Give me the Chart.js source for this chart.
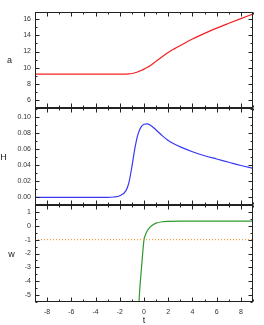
<!DOCTYPE html>
<html>
<head>
<meta charset="utf-8">
<script src="https://cdn.jsdelivr.net/npm/chart.js@4.4.0/dist/chart.umd.min.js"></script>
<style>
  html, body { margin: 0; padding: 0; background: #fff; overflow: hidden; }
  #wrap { position: relative; width: 264px; height: 325px; }
  #wrap canvas { position: absolute; left: 0; top: 0; }
</style>
</head>
<body>
<div id="wrap">
  <canvas id="c1" width="264" height="325"></canvas>
  <canvas id="c2" width="264" height="325"></canvas>
  <canvas id="c3" width="264" height="325"></canvas>
</div>
<script>
// time samples shared by a(t) and H(t)
const tVals = [-9, -8, -7, -6, -5, -4, -3, -2.5, -2, -1.5, -1.25, -1, -0.75, -0.5, -0.25, 0, 0.25, 0.5, 1, 1.5, 2, 2.5, 3, 4, 5, 6, 7, 8, 9];
const aVals = [9.2, 9.2, 9.2, 9.2, 9.2, 9.2, 9.2, 9.2, 9.2, 9.21, 9.23, 9.28, 9.37, 9.5, 9.65, 9.82, 10.02, 10.25, 10.8, 11.35, 11.88, 12.33, 12.75, 13.55, 14.25, 14.9, 15.5, 16.08, 16.65];
const hVals = [0, 0, 0, 0, 0, 0, 0, 0.0004, 0.002, 0.008, 0.018, 0.038, 0.061, 0.078, 0.087, 0.0905, 0.091, 0.0895, 0.0835, 0.0765, 0.0705, 0.066, 0.0625, 0.0565, 0.0515, 0.0475, 0.0435, 0.0395, 0.036];

// w(t) has its own samples, it enters from below the panel
const tW = [-0.42, -0.35, -0.3, -0.2, -0.1, 0, 0.1, 0.25, 0.5, 0.75, 1, 1.5, 2, 3, 5, 7, 9];
const wVals = [-5.6, -4.6, -4.0, -2.95, -1.9, -1.0, -0.7, -0.4, -0.1, 0.08, 0.19, 0.29, 0.32, 0.333, 0.335, 0.335, 0.335];
const wRef = -1; // dotted reference line

// axes
const tRange = [-9, 9];
const tTicks = [-8, -6, -4, -2, 0, 2, 4, 6, 8];
const aRange = [5, 16.9];
const aTicks = [6, 8, 10, 12, 14, 16];
const hRange = [-0.0095, 0.1107];
const hTicks = [0, 0.02, 0.04, 0.06, 0.08, 0.10];
const wRange = [-5.5, 1.5];
const wTicks = [-5, -4, -3, -2, -1, 0, 1];

const tickFont = { family: "'Liberation Sans', Arial, sans-serif", size: 7 };
const tickColor = '#333';

function pts(xs, ys) {
  return xs.map((x, i) => ({ x: x, y: ys[i] }));
}

// frame, inward ticks and the upright axis names
const framePlugin = {
  id: 'frame',
  afterDatasetsDraw(chart, args, opts) {
    const ctx = chart.ctx;
    const area = chart.chartArea;
    const xs = chart.scales.x, ys = chart.scales.y;
    ctx.save();
    ctx.strokeStyle = '#222';
    ctx.lineWidth = 1;
    const L = Math.round(area.left) + 0.5, R = Math.round(area.right) - 0.5;
    const T = Math.round(area.top) + 0.5, B = Math.round(area.bottom) - 0.5;
    ctx.strokeRect(L, T, R - L, B - T);

    ctx.beginPath();
    for (let v = Math.ceil(xs.min); v <= xs.max; v += opts.xMinor) {
      const px = Math.round(xs.getPixelForValue(v)) + 0.5;
      const len = tTicks.includes(v) ? 4 : 2;
      ctx.moveTo(px, T); ctx.lineTo(px, T + len);
      ctx.moveTo(px, B); ctx.lineTo(px, B - len);
    }
    const major = opts.yTicks;
    const step = opts.yMinor;
    const start = Math.ceil(ys.min / step - 1e-6) * step;
    for (let v = start; v <= ys.max + 1e-9; v += step) {
      const py = Math.round(ys.getPixelForValue(v)) + 0.5;
      const isMajor = major.some(m => Math.abs(m - v) < step / 10);
      const len = isMajor ? 4 : 2;
      ctx.moveTo(L, py); ctx.lineTo(L + len, py);
      ctx.moveTo(R, py); ctx.lineTo(R - len, py);
    }
    ctx.stroke();

    ctx.fillStyle = '#222';
    ctx.font = "9px 'Liberation Sans', Arial, sans-serif";
    ctx.textAlign = 'center';
    ctx.textBaseline = 'middle';
    ctx.fillText(opts.name, opts.nameX, (area.top + area.bottom) / 2 + 1);
    if (opts.xName) {
      ctx.fillText(opts.xName, (area.left + area.right) / 2, 321);
    }
    ctx.restore();
  }
};

function makePanel(id, cfg) {
  return new Chart(document.getElementById(id), {
    type: 'line',
    data: { datasets: cfg.datasets },
    plugins: [framePlugin],
    options: {
      responsive: false,
      animation: false,
      devicePixelRatio: 1,
      layout: { padding: cfg.padding },
      elements: { point: { radius: 0 } },
      plugins: {
        legend: { display: false },
        tooltip: { enabled: false },
        frame: cfg.frame
      },
      scales: {
        x: {
          type: 'linear',
          min: tRange[0], max: tRange[1],
          display: cfg.showX,
          grid: { display: false, drawTicks: false },
          border: { display: false },
          afterBuildTicks: s => { s.ticks = tTicks.map(v => ({ value: v })); },
          afterFit: s => { s.height = cfg.showX ? 23 : 0; },
          ticks: { font: tickFont, color: tickColor, padding: 6, maxRotation: 0 }
        },
        y: {
          type: 'linear',
          min: cfg.yRange[0], max: cfg.yRange[1],
          grid: { display: false, drawTicks: false },
          border: { display: false },
          afterBuildTicks: s => { s.ticks = cfg.yTicks.map(v => ({ value: v })); },
          afterFit: s => { s.width = 35; },
          ticks: { font: tickFont, color: tickColor, padding: 4, callback: cfg.fmt }
        }
      }
    }
  });
}

makePanel('c1', {
  padding: { top: 12, bottom: 217, left: 0, right: 11 },
  showX: false,
  yRange: aRange, yTicks: aTicks,
  fmt: v => String(v),
  frame: { name: 'a', nameX: 9.5, yTicks: aTicks, yMinor: 1, xMinor: 1 },
  datasets: [{
    data: pts(tVals, aVals), borderColor: '#f52020', borderWidth: 1.2,
    cubicInterpolationMode: 'monotone'
  }]
});

makePanel('c2', {
  padding: { top: 108, bottom: 120, left: 0, right: 11 },
  showX: false,
  yRange: hRange, yTicks: hTicks,
  fmt: v => v.toFixed(2),
  frame: { name: 'H', nameX: 3.5, yTicks: hTicks, yMinor: 0.01, xMinor: 1 },
  datasets: [{
    data: pts(tVals, hVals), borderColor: '#3838f5', borderWidth: 1.2,
    cubicInterpolationMode: 'monotone'
  }]
});

makePanel('c3', {
  padding: { top: 205, bottom: 0, left: 0, right: 11 },
  showX: true,
  yRange: wRange, yTicks: wTicks,
  fmt: v => String(v),
  frame: { name: 'w', nameX: 11.5, yTicks: wTicks, yMinor: 0.5, xMinor: 1, xName: 't' },
  datasets: [{
    data: pts(tRange, [wRef, wRef]), borderColor: '#ff9a40', borderWidth: 1.2,
    borderDash: [1, 2]
  }, {
    data: pts(tW, wVals), borderColor: '#2e9a2e', borderWidth: 1.2,
    cubicInterpolationMode: 'monotone'
  }]
});
</script>
</body>
</html>
